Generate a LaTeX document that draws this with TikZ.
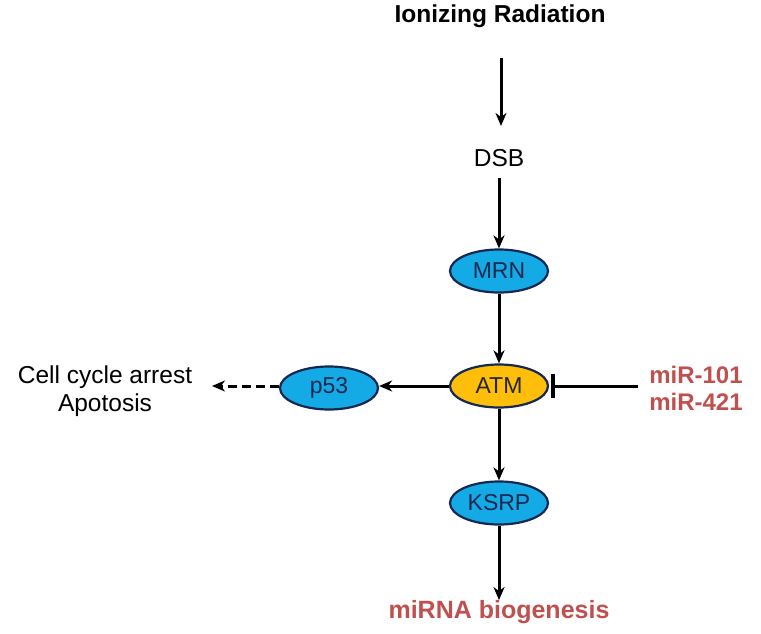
\documentclass[tikz,border=0pt]{standalone}
\usepackage{fontspec}
\setmainfont{Liberation Sans}
\usetikzlibrary{arrows.meta,shapes.geometric}
\definecolor{mirred}{RGB}{192,80,77}
\definecolor{bluefill}{RGB}{20,170,230}
\definecolor{goldfill}{RGB}{255,190,10}
\definecolor{navy}{RGB}{20,40,80}
\tikzset{
  prot/.style={ellipse, draw=navy, line width=2.2pt, fill=bluefill, minimum width=98pt, minimum height=43pt, inner sep=0pt, font=\fontsize{23}{23}\selectfont, text=navy},
  atm/.style={prot, fill=goldfill, text=black!85},
  lbl/.style={font=\fontsize{24.5}{28}\selectfont, align=center, inner sep=0pt},
  mir/.style={font=\bfseries\fontsize{24}{27}\selectfont, text=mirred, align=center, inner sep=0pt},
  arr/.style={line width=3pt, -{Stealth[length=13pt,width=11pt,inset=4pt]}},
  inh/.style={line width=3pt, -{Bar[width=24pt,line width=3.5pt]}},
}
\begin{document}
\begin{tikzpicture}[x=1pt,y=-1pt]
\useasboundingbox (0,0) rectangle (761,634);
\node[font=\bfseries\fontsize{24.5}{28}\selectfont, inner sep=0pt] (ir) at (500,16) {Ionizing Radiation};
\coordinate (irb) at (501,58);
\coordinate (ira) at (501,126);
\node[lbl] (dsb) at (499,158) {DSB};
\coordinate (dsbb) at (499,178);
\node[prot] (mrn) at (499,271) {MRN};
\node[atm] (atm) at (499,386) {ATM};
\node[prot] (p53) at (329,388) {p53};
\node[prot] (ksrp) at (499,503) {KSRP};
\node[lbl] (cca) at (105,391) {Cell cycle arrest\\Apotosis};
\node[mir] (mir) at (696,388) {miR-101\\miR-421};
\node[mir, font=\bfseries\fontsize{25}{28}\selectfont] (bio) at (499,612) {miRNA biogenesis};
\coordinate (mirl) at (638,386);
\coordinate (ccar) at (212,386);
\draw[arr] (irb) -- (ira);
\draw[arr] (dsbb) -- (mrn);
\draw[arr] (mrn) -- (atm);
\draw[arr] (atm.west) -- (p53.east |- atm.west);
\draw[arr, dashed, dash pattern=on 9pt off 5pt] (p53.west |- atm.west) -- (ccar);
\draw[inh, shorten >=2pt] (mirl) -- (atm.east);
\draw[arr] (atm) -- (ksrp);
\draw[arr] (ksrp) -- (bio);
\end{tikzpicture}
\end{document}
